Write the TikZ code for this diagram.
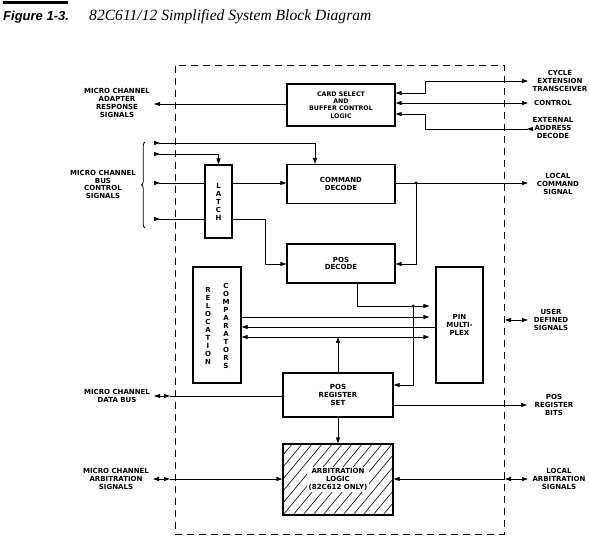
\documentclass[tikz,border=0pt]{standalone}
\usepackage{fontspec}
\setmainfont{Liberation Sans}
\newfontfamily\lblfont{DejaVu Sans}
\newfontfamily\capfont{Liberation Serif}
\usetikzlibrary{arrows.meta,decorations.pathreplacing}
\tikzset{
  tri/.tip={Triangle[length=6pt,width=4pt]},
  rtri/.tip={Triangle[length=6pt,width=4pt,reversed]},
  lab/.style={font=\lblfont\bfseries\fontsize{7}{7.7}\selectfont, align=center, inner sep=0pt},
  vlab/.style={font=\lblfont\bfseries\fontsize{7}{8}\selectfont, align=center, inner sep=0pt},
  blk/.style={draw, line width=1.2pt, lab},
  conn/.style={line width=0.8pt},
  dot/.style={circle, fill, inner sep=0pt, minimum size=3pt},
}
\begin{document}
\begin{tikzpicture}[x=1pt,y=-1pt,>=tri]
\useasboundingbox (0,0) rectangle (590,537);
% title
\fill (3,1.2) rectangle (68,4.5);
\node[anchor=base west, inner sep=0pt, font=\fontsize{13}{15}\selectfont\bfseries\itshape] (fig) at (3,20.5) {Figure 1-3.};
\node[anchor=base west, inner sep=0pt, font=\capfont\itshape\fontsize{15.6}{17}\selectfont] (cap) at (89,20.5) {82C611/12 Simplified System Block Diagram};
% chip outline
\node[draw, line width=0.9pt, dash pattern=on 7pt off 5pt, minimum width=329pt, minimum height=469pt, inner sep=0pt] (chip) at (339.5,299.5) {};
% blocks
\node[blk, font=\lblfont\bfseries\fontsize{6.3}{7.3}\selectfont, minimum width=108pt, minimum height=42pt] (card) at (341,105) {CARD SELECT\\AND\\BUFFER CONTROL\\LOGIC};
\node[blk, minimum width=108pt, minimum height=39pt] (cmd) at (341,184) {COMMAND\\DECODE};
\node[blk, minimum width=108pt, minimum height=39pt] (posd) at (341,263.5) {POS\\DECODE};
\node[blk, vlab, minimum width=27pt, minimum height=73pt] (latch) at (218.5,201.5) {L\\A\\T\\C\\H};
\node[blk, minimum width=48pt, minimum height=116pt] (reloc) at (217,325) {};
\node[vlab] (relA) at (208,326) {R\\E\\L\\O\\C\\A\\T\\I\\O\\N};
\node[vlab] (relB) at (226,325.5) {C\\O\\M\\P\\A\\R\\A\\T\\O\\R\\S};
\node[blk, minimum width=47pt, minimum height=116pt] (pin) at (459.5,325) {PIN\\MULTI-\\PLEX};
\node[blk, minimum width=110pt, minimum height=44pt] (posreg) at (338,395) {POS\\REGISTER\\SET};
\node[draw, line width=1.2pt, minimum width=110pt, minimum height=71pt] (arb) at (338,479.5) {};
\begin{scope}
  \clip (arb.south west) rectangle (arb.north east);
  \foreach \x in {223,233,...,393} \draw[line width=0.6pt] (\x,515) -- ++(60,-72);
\end{scope}
\draw[line width=1.2pt] (arb.south west) rectangle (arb.north east);
\node[lab, fill=white, inner sep=1.5pt] (arbtxt) at (338,479.5) {ARBITRATION\\LOGIC\\(82C612 ONLY)};
% outside labels
\node[lab] (respL) at (117,103) {MICRO CHANNEL\\ADAPTER\\RESPONSE\\SIGNALS};
\node[lab] (busL) at (103,184.5) {MICRO CHANNEL\\BUS\\CONTROL\\SIGNALS};
\node[lab] (dbLab) at (117,396) {MICRO CHANNEL\\DATA BUS};
\node[lab] (maLab) at (116,479) {MICRO CHANNEL\\ARBITRATION\\SIGNALS};
\node[lab] (cycL) at (560,81) {CYCLE\\EXTENSION\\TRANSCEIVER};
\node[lab] (ctlL) at (553,103) {CONTROL};
\node[lab] (extL) at (553,128) {EXTERNAL\\ADDRESS\\DECODE};
\node[lab] (lcL) at (558,184) {LOCAL\\COMMAND\\SIGNAL};
\node[lab] (uL) at (551,320) {USER\\DEFINED\\SIGNALS};
\node[lab] (prL) at (554,405) {POS\\REGISTER\\BITS};
\node[lab] (laLab) at (559,479) {LOCAL\\ARBITRATION\\SIGNALS};
% coordinates of free ends
\coordinate (respE) at (154,104);
\coordinate (cycE) at (528,81);
\coordinate (ctlE) at (528,103);
\coordinate (extE) at (533,129);
\coordinate (b1) at (154,143);
\coordinate (b2) at (154,154);
\coordinate (b3) at (154,183);
\coordinate (b4) at (154,219);
\coordinate (lcE) at (528,183);
\coordinate (uA) at (505,320);
\coordinate (uB) at (528,320);
\coordinate (dbL) at (154,396);
\coordinate (dbM) at (170,396);
\coordinate (prE) at (527,405);
\coordinate (maL) at (153,479);
\coordinate (maM) at (170,479);
\coordinate (laL) at (505,479);
\coordinate (laR) at (528,479);
% connectors
\draw[conn,->] (card.west |- respE) -- (respE);
\draw[conn,<->] (card.east |- 0,93) -- (425,93) -- (425,81) -- (cycE);
\draw[conn,<->] (card.east |- ctlE) -- (ctlE);
\draw[conn,rtri->] (extE) -- (425,129) -- (425,114) -- (card.east |- 0,114);
\draw[decorate, decoration={brace, amplitude=3.5pt}, line width=0.8pt] (145,228) -- (145,142);
\draw[conn,rtri->] (b1) -- (315,143) -- (cmd.north -| 315,0);
\draw[conn,rtri->] (b2) -- (b2 -| latch.north) -- (latch.north);
\draw[conn,rtri-] (b3) -- (latch.west |- b3);
\draw[conn,rtri-] (b4) -- (latch.west |- b4);
\draw[conn,->] (latch.east |- 0,183) -- (cmd.west |- 0,183);
\draw[conn,->] (latch.east |- b4) -- (265,219) -- (265,264) -- (posd.west |- 0,264);
\draw[conn,->] (cmd.east |- lcE) -- (lcE);
\node[dot] (j1) at (416,183) {};
\draw[conn,->] (j1.center) -- (416,264) -- (posd.east |- 0,264);
\draw[conn,->,shorten >=6pt] ([xshift=16pt]posd.south) -- (357,306) -- (pin.west |- 0,306);
\node[dot] (j2) at (413,306) {};
\draw[conn,->] (j2.center) -- (413,385) -- (posreg.east |- 0,385);
\draw[conn,->,shorten >=6pt] (reloc.east |- 0,317) -- (pin.west |- 0,317);
\draw[conn,->] (pin.west |- 0,327) -- (reloc.east |- 0,327);
\draw[conn,<->,shorten >=6pt] (reloc.east |- 0,337) -- (pin.west |- 0,337);
\draw[conn,->] (posreg.north) -- (posreg.north |- 0,337);
\draw[conn,<->] (uA) -- (uB);
\draw[conn,<->] (dbL) -- (dbM);
\draw[conn] (dbM) -- (posreg.west |- dbM);
\draw[conn,->] (posreg.east |- prE) -- (prE);
\draw[conn,->] (posreg.south) -- (arb.north);
\draw[conn,<->] (maL) -- (maM);
\draw[conn,->] (maM) -- (arb.west |- maM);
\draw[conn,<->] (laL) -- (laR);
\draw[conn,->] (laL) -- (arb.east |- laL);
\end{tikzpicture}
\end{document}
